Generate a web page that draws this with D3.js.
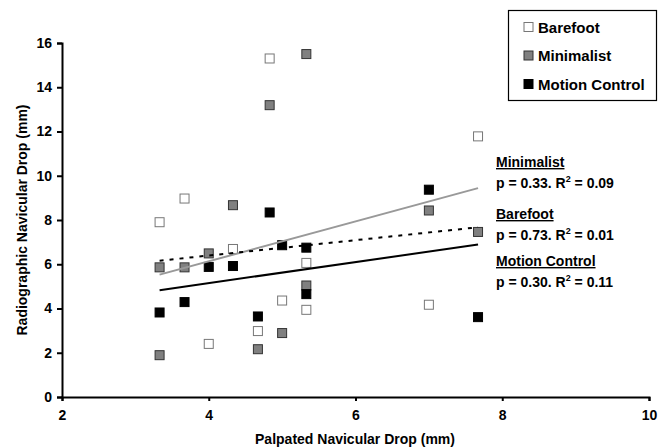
<!DOCTYPE html>
<html>
<head>
<meta charset="utf-8">
<script src="https://cdn.jsdelivr.net/npm/d3@7"></script>
<style>
  body { margin: 0; background: #fff; }
  svg { font-family: "Liberation Sans", Arial, sans-serif; font-weight: bold; }
</style>
</head>
<body>
<div id="chart"></div>
<script>
// data
var xTicks = [2, 4, 6, 8, 10];
var yTicks = [0, 2, 4, 6, 8, 10, 12, 14, 16];

var barefootX = [3.33, 3.67, 4.0, 4.33, 4.67, 4.83, 5.0, 5.33, 5.33, 7.0, 7.67];
var barefootY = [7.9, 8.97, 2.4, 6.69, 2.98, 15.3, 4.36, 6.06, 3.94, 4.17, 11.78];

var minimalistX = [3.33, 3.33, 3.67, 4.0, 4.33, 4.67, 4.83, 5.0, 5.33, 5.33, 7.0, 7.67];
var minimalistY = [5.86, 1.89, 5.86, 6.49, 8.67, 2.16, 13.19, 2.89, 15.5, 5.04, 8.43, 7.46];

var motionX = [3.33, 3.67, 4.0, 4.33, 4.67, 4.83, 5.0, 5.33, 5.33, 7.0, 7.67];
var motionY = [3.82, 4.29, 5.88, 5.92, 3.64, 8.34, 6.86, 6.75, 4.65, 9.37, 3.61];

// trend line end points [x0, y0, x1, y1]
var minimalistFit = [3.33, 5.53, 7.67, 9.44];
var barefootFit = [3.33, 6.16, 7.67, 7.67];
var motionFit = [3.33, 4.83, 7.67, 6.89];

var legendNames = ["Barefoot", "Minimalist", "Motion Control"];
var statTitles = ["Minimalist", "Barefoot", "Motion Control"];
var statP = ["0.33", "0.73", "0.30"];
var statR2 = ["0.09", "0.01", "0.11"];

var width = 667, height = 448;
var svg = d3.select("#chart").append("svg")
    .attr("width", width)
    .attr("height", height);

var x = d3.scaleLinear().domain([2, 10]).range([62, 649]);
var y = d3.scaleLinear().domain([0, 16]).range([397, 43]);

// axes
var xAxis = d3.axisBottom(x).tickValues(xTicks).tickSize(4).tickPadding(9);
var yAxis = d3.axisLeft(y).tickValues(yTicks).tickSize(5).tickPadding(5);

var gx = svg.append("g").attr("transform", "translate(0," + y(0) + ")").call(xAxis);
var gy = svg.append("g").attr("transform", "translate(" + x(2) + ",0)").call(yAxis);

[gx, gy].forEach(function(g){
    g.select(".domain").attr("stroke", "#000").attr("stroke-width", 2);
    g.selectAll(".tick line").attr("stroke", "#000").attr("stroke-width", 2);
    g.selectAll(".tick text")
        .attr("font-size", 14)
        .attr("font-weight", "bold")
        .attr("font-family", "Liberation Sans, Arial, sans-serif")
        .attr("fill", "#000");
});

// axis titles
svg.append("text")
    .attr("x", 355).attr("y", 444)
    .attr("text-anchor", "middle")
    .attr("font-size", 14)
    .text("Palpated Navicular Drop (mm)");

svg.append("text")
    .attr("transform", "translate(27,220) rotate(-90)")
    .attr("text-anchor", "middle")
    .attr("font-size", 14)
    .text("Radiographic Navicular Drop (mm)");

// trend lines
function fitLine(f, color, dash){
    var l = svg.append("line")
        .attr("x1", x(f[0])).attr("y1", y(f[1]))
        .attr("x2", x(f[2])).attr("y2", y(f[3]))
        .attr("stroke", color)
        .attr("stroke-width", 2);
    if (dash) l.attr("stroke-dasharray", dash);
}

// marker series
var size = 9;
function series(xs, ys, fill, stroke){
    var pts = xs.map(function(v, i){ return {x: v, y: ys[i]}; });
    svg.append("g").selectAll("rect")
        .data(pts).enter().append("rect")
        .attr("x", function(d){ return x(d.x) - size / 2; })
        .attr("y", function(d){ return y(d.y) - size / 2; })
        .attr("width", size).attr("height", size)
        .attr("fill", fill)
        .attr("stroke", stroke)
        .attr("stroke-width", 1);
}

series(barefootX, barefootY, "#fff", "#777");
series(minimalistX, minimalistY, "#808080", "#333");
series(motionX, motionY, "#000", "#000");

fitLine(minimalistFit, "#999", null);
fitLine(barefootFit, "#000", "4,6");
fitLine(motionFit, "#000", null);

// legend
var legend = svg.append("g");
legend.append("rect")
    .attr("x", 508.5).attr("y", 10.5)
    .attr("width", 148).attr("height", 90)
    .attr("fill", "#fff").attr("stroke", "#000").attr("stroke-width", 1.2);

var legFill = ["#fff", "#808080", "#000"];
var legStroke = ["#777", "#333", "#000"];
legendNames.forEach(function(name, i){
    var cy = 27 + i * 28.5;
    legend.append("rect")
        .attr("x", 524).attr("y", cy - 4.5)
        .attr("width", 9).attr("height", 9)
        .attr("fill", legFill[i]).attr("stroke", legStroke[i]);
    legend.append("text")
        .attr("x", 538).attr("y", cy + 5.5)
        .attr("font-size", 15)
        .text(name);
});

// stats annotations
var statY = [167, 219, 266];
statTitles.forEach(function(t, i){
    svg.append("text")
        .attr("x", 496).attr("y", statY[i])
        .attr("font-size", 14)
        .attr("text-decoration", "underline")
        .text(t);
    var line = svg.append("text")
        .attr("x", 496).attr("y", statY[i] + 21)
        .attr("font-size", 14);
    line.append("tspan").text("p = " + statP[i] + ". R");
    line.append("tspan").attr("dy", -6).attr("font-size", 9).text("2");
    line.append("tspan").attr("dy", 6).text(" = " + statR2[i]);
});
</script>
</body>
</html>
